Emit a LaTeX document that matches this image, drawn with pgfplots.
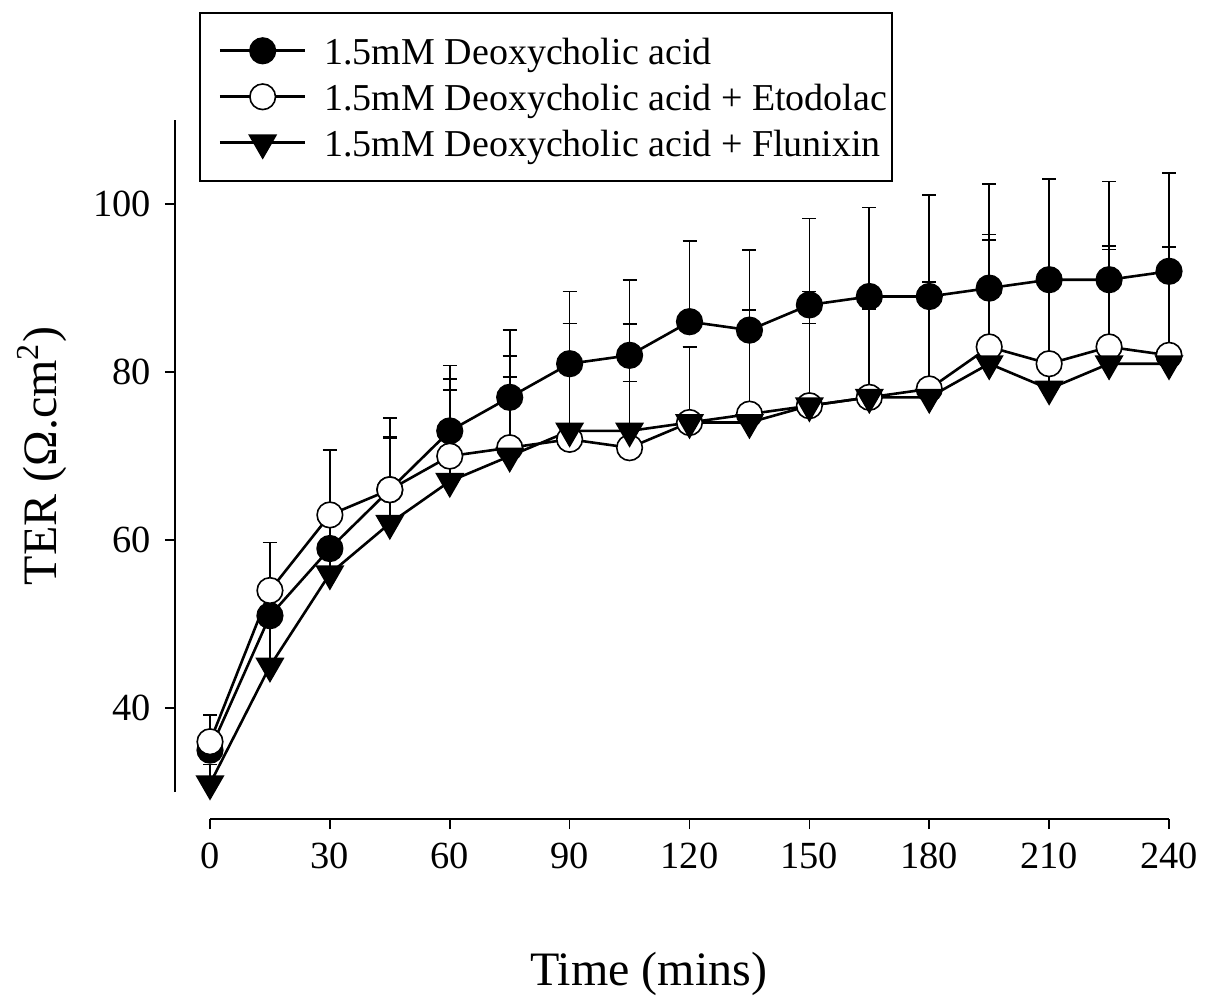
\documentclass[border=0pt]{standalone}
\usepackage{fontspec}
\setmainfont{Liberation Serif}
\usepackage{pgfplots}
\usepackage{pgfplotstable}
\pgfplotsset{compat=1.18}

\pgfplotstableread{
t v e
0 35 4.2
15 51 8.7
30 59 11.7
45 66 8.5
60 73 7.8
75 77 8.0
90 81 8.6
105 82 9.0
120 86 9.6
135 85 9.5
150 88 10.3
165 89 10.6
180 89 12.1
195 90 12.4
210 91 12.0
225 91 11.7
240 92 11.7
}\deoxy

\pgfplotstableread{
t v e
0 36 3.2
15 54 5.7
30 63 7.7
45 66 6.3
60 70 9.2
75 71 8.4
90 72 13.8
105 71 7.9
120 74 9.0
135 75 12.4
150 76 13.6
165 77 10.5
180 78 12.7
195 83 13.4
210 81 10.0
225 83 12.0
240 82 12.9
}\etod

\pgfplotstableread{
t v e
0 31 2.3
15 45 6.0
30 56 8.2
45 62 10.1
60 67 10.9
75 70 11.9
90 73 12.8
105 73 12.7
120 74 9.0
135 74 13.4
150 76 9.8
165 77 10.5
180 77 10.8
195 81 14.7
210 78 13.0
225 81 13.6
240 81 13.9
}\flun

\begin{document}
\begin{tikzpicture}
\useasboundingbox (-43.75pt,-44.75pt) rectangle (258.75pt,204.75pt);
\begin{axis}[
  at={(0pt,0pt)}, anchor=south west,
  scale only axis, width=248.5pt, height=174.725pt,
  xmin=-8.76, xmax=240, ymin=26.8, ymax=110,
  axis x line*=bottom, axis y line*=left,
  axis line style={draw=none},
  xtick={0,30,...,240}, ytick={40,60,80,100},
  tick align=outside, major tick length=2.5pt,
  tick style={black, line width=0.4pt},
  clip=false,
  /pgf/number format/assume math mode=true,
  ticklabel style={font=\fontsize{9.6}{11}\selectfont},
  xlabel={Time (mins)},
  xlabel style={at={(axis description cs:0.4764,-0.2375)}, anchor=base, font=\fontsize{12}{14}\selectfont},
  ylabel={TER (Ω.cm\textsuperscript{2})},
  ylabel style={at={(axis description cs:-0.1197,0.520)}, anchor=base, font=\fontsize{12}{14}\selectfont},
  legend style={at={(axis description cs:0.02414,1.1547)}, anchor=north west, draw=black,
    inner xsep=1.25pt, inner ysep=5pt, row sep=2.5pt, column sep=4.4pt,
    nodes={inner xsep=0pt, inner ysep=0pt, text height=8pt, text depth=1pt},
    font=\fontsize{9.5}{11}\selectfont, legend cell align=left},
  legend image code/.code={\path (0pt,0pt); \draw[mark repeat=2,mark phase=2] plot coordinates {(3.45pt,0pt)(14.15pt,0pt)(24.85pt,0pt)};},
  error bars/y dir=plus, error bars/y explicit,
  error bars/error bar style={line width=0.42pt, black},
]
\addplot[black, line width=0.65pt, mark=*, mark size=3.2pt,
  mark options={solid, fill=black, line width=0.4pt},
  error bars/error mark options={rotate=90, black, mark size=1.75pt, line width=0.42pt}]
  table[x=t, y=v, y error=e] {\deoxy};
\addlegendentry{1.5mM Deoxycholic acid}
\addplot[black, line width=0.65pt, mark=*, mark size=3.2pt,
  mark options={solid, fill=white, line width=0.4pt},
  error bars/error mark options={rotate=90, black, mark size=1.75pt, line width=0.42pt}]
  table[x=t, y=v, y error=e] {\etod};
\addlegendentry{1.5mM Deoxycholic acid + Etodolac}
\addplot[black, line width=0.65pt, mark=triangle*, mark size=3.8pt,
  mark options={solid, fill=black, rotate=180, line width=0.4pt},
  error bars/error mark options={rotate=90, black, mark size=1.75pt, line width=0.42pt}]
  table[x=t, y=v, y error=e] {\flun};
\addlegendentry{1.5mM Deoxycholic acid + Flunixin}
\draw[black, line width=0.4pt] (axis cs:-8.76,30) -- (axis cs:-8.76,110);
\draw[black, line width=0.4pt] (axis cs:0,26.8) -- (axis cs:240,26.8);
\end{axis}
\end{tikzpicture}
\end{document}
